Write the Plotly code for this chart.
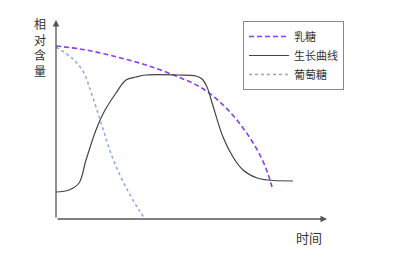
import plotly.graph_objects as go

# Data in chart units: x = time (0 at y axis), y = relative content (0 at x axis)
lactose_x = [0, 30, 61, 90, 120, 144, 164, 180, 194, 205, 212, 216]
lactose_y = [173, 169, 162, 154, 143, 132, 117, 100, 81, 62, 45, 32]

growth_x = [0, 13, 23, 30, 40, 48, 60, 70, 80, 90, 121, 140, 146, 151, 157, 167, 177, 187, 201, 211, 237]
growth_y = [27, 29, 36, 59, 89, 107, 126, 139, 142, 144, 144, 143, 140, 132, 113, 82, 62, 49, 41, 39, 38]

glucose_x = [0, 17, 28, 34, 40, 47, 54, 63, 73, 83, 89]
glucose_y = [172, 160, 146, 130, 112, 90, 68, 46, 26, 9, 0]

names = ["乳糖", "生长曲线", "葡萄糖"]

fig = go.Figure()
fig.add_trace(go.Scatter(x=lactose_x, y=lactose_y, mode="lines", name=names[0],
                         line=dict(color="#8a3cf0", width=1.6, dash="5px,3px", shape="spline", smoothing=1)))
fig.add_trace(go.Scatter(x=growth_x, y=growth_y, mode="lines", name=names[1],
                         line=dict(color="#444444", width=1.2, shape="spline", smoothing=1)))
fig.add_trace(go.Scatter(x=glucose_x, y=glucose_y, mode="lines", name=names[2],
                         line=dict(color="#86a8e0", width=1.5, dash="dot", shape="spline", smoothing=1)))

font = "Noto Sans CJK SC"
fig.update_layout(
    width=400, height=253,
    margin=dict(l=56, r=73, t=20, b=34),
    paper_bgcolor="white", plot_bgcolor="white",
    font=dict(family=font, color="#333333"),
    xaxis=dict(range=[0, 271], showgrid=False, zeroline=False, showticklabels=False, ticks="", showline=False),
    yaxis=dict(range=[0, 199], showgrid=False, zeroline=False, showticklabels=False, ticks="", showline=False),
    legend=dict(x=0.69, y=0.995, xanchor="left", yanchor="top", bordercolor="#888888", borderwidth=1,
                bgcolor="white", font=dict(size=11, family=font, color="#333333"),
                tracegroupgap=0, itemwidth=40),
    showlegend=True,
)

# axes with arrows
fig.add_annotation(x=0, y=199, ax=0, ay=0, xref="x", yref="y", axref="x", ayref="y",
                   showarrow=True, arrowhead=2, arrowsize=1, arrowwidth=1.3, arrowcolor="#555555", text="")
fig.add_annotation(x=271, y=0, ax=0, ay=0, xref="x", yref="y", axref="x", ayref="y",
                   showarrow=True, arrowhead=2, arrowsize=1, arrowwidth=1.3, arrowcolor="#555555", text="")

fig.add_annotation(x=40, y=47, xref="paper", yref="paper", text="相<br>对<br>含<br>量",
                   showarrow=False, font=dict(size=12, family=font, color="#333333"))
fig.add_annotation(x=309, y=237, xref="paper", yref="paper", text="时间",
                   showarrow=False, font=dict(size=13, family=font, color="#333333"))

# convert pixel-positioned labels into paper coords
for ann in fig.layout.annotations[2:]:
    px, py = ann.x, ann.y
    ann.x = (px - 56) / 271
    ann.y = (219 - py) / 199
    ann.xanchor = "center"
    ann.yanchor = "middle"

fig.write_html("out.html")
